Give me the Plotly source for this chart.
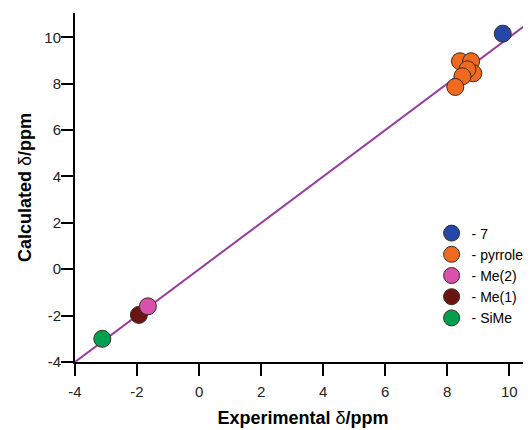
import plotly.graph_objects as go

# Data (experimental vs calculated chemical shifts, ppm)
series_names = ["- 7", "- pyrrole", "- Me(2)", "- Me(1)", "- SiMe"]
exp_7 = [9.79]
calc_7 = [10.16]
exp_pyrrole = [8.41, 8.77, 8.84, 8.65, 8.49, 8.26]
calc_pyrrole = [8.97, 8.97, 8.45, 8.62, 8.32, 7.86]
exp_me2 = [-1.65]
calc_me2 = [-1.6]
exp_me1 = [-1.94]
calc_me1 = [-1.97]
exp_sime = [-3.12]
calc_sime = [-3.0]
fit_x = [-4, 10.6]
fit_y = [-4, 10.6]
tick_vals = [-4, -2, 0, 2, 4, 6, 8, 10]
tick_text = ["-4", "-2", "0", "2", "4", "6", "8", "10"]

colors = {
    "- 7": "#2447a8",
    "- pyrrole": "#ef6a1f",
    "- Me(2)": "#da50ad",
    "- Me(1)": "#6a1414",
    "- SiMe": "#00a04f",
}

fig = go.Figure()
fig.add_trace(go.Scatter(x=fit_x, y=fit_y, mode="lines",
                         line=dict(color="#9a3aa0", width=2), showlegend=False))

series = [
    ("- SiMe", exp_sime, calc_sime),
    ("- Me(1)", exp_me1, calc_me1),
    ("- Me(2)", exp_me2, calc_me2),
    ("- pyrrole", exp_pyrrole, calc_pyrrole),
    ("- 7", exp_7, calc_7),
]
for name, xs, ys in series:
    fig.add_trace(go.Scatter(
        x=xs, y=ys, mode="markers", name=name,
        marker=dict(size=17, color=colors[name],
                    line=dict(color="#3a2a20", width=1)),
    ))

font_family = "Liberation Sans, Arial, sans-serif"
axis_common = dict(
    showline=True, linecolor="black", linewidth=2,
    ticks="outside", ticklen=12, tickwidth=2, tickcolor="black",
    tickvals=tick_vals, ticktext=tick_text,
    showgrid=False, zeroline=False, automargin=False,
    tickfont=dict(size=15, color="#222222", family=font_family),
)

# page body has an 8px margin, so the figure is sized/offset to compensate
fig.update_layout(
    width=523, height=422,
    margin=dict(l=67, r=0, t=5, b=68),
    paper_bgcolor="white", plot_bgcolor="white",
    font=dict(family=font_family, color="black"),
    xaxis=dict(range=[-4, 10.7], ticklabelstandoff=3,
               title=dict(text="<b>Experimental </b>δ<b>/ppm</b>",
                          font=dict(size=18, color="black"), standoff=12),
               **axis_common),
    yaxis=dict(range=[-4, 11.05], ticklabelstandoff=-3,
               title=dict(text="<b>Calculated </b>δ<b>/ppm</b>",
                          font=dict(size=18, color="black"), standoff=8),
               **axis_common),
    legend=dict(x=0.782, y=0.414, xanchor="left", yanchor="top",
                traceorder="reversed", bgcolor="rgba(0,0,0,0)",
                font=dict(size=14, color="black"), tracegroupgap=0),
)

fig.write_html("out.html")
